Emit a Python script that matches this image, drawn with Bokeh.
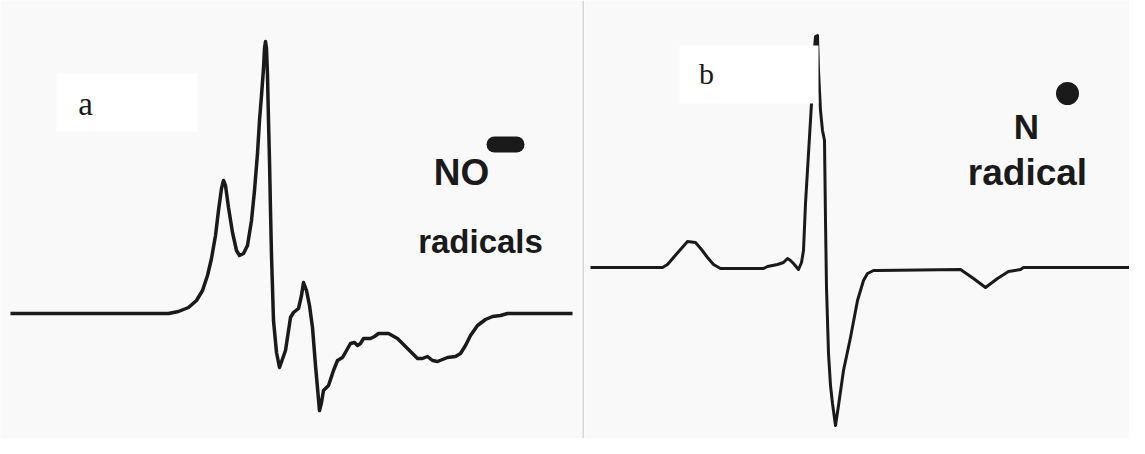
from bokeh.plotting import figure
from bokeh.layouts import row
from bokeh.models import Range1d, Span, Label
from bokeh.embed import file_html
from bokeh.resources import INLINE

# ---- data: EPR-like spectra (field in arbitrary units, signal relative to baseline) ----
field_a = [10, 168, 178, 188, 196, 202, 207, 211, 215, 218, 221, 223, 225, 228, 232, 236, 239, 243, 247,
           251, 254, 257, 259, 261, 263, 264, 265, 266, 267, 268, 269, 270, 271, 273, 276, 279, 285, 290,
           293, 298, 301, 303, 306, 309, 312, 315, 319, 321, 323, 328, 333, 337, 342, 346, 350, 354, 357,
           360, 363, 370, 374, 378, 388, 397, 407, 417, 422, 427, 432, 437, 442, 447, 455, 460, 465, 470,
           477, 485, 492, 500, 507, 572]
pos_a = [313, 313, 311, 307, 300, 290, 275, 258, 235, 210, 188, 180, 185, 207, 232, 250, 255, 253, 245,
         220, 190, 153, 120, 95, 68, 48, 41, 48, 75, 120, 160, 210, 255, 320, 352, 367, 350, 317,
         312, 308, 295, 282, 290, 305, 327, 365, 410, 402, 390, 385, 370, 360, 357, 350, 343, 342, 345,
         343, 338, 338, 336, 333, 333, 338, 348, 358, 358, 356, 360, 361, 359, 357, 356, 353, 345, 335,
         325, 319, 316, 315, 313, 313]
signal_a = [313 - v for v in pos_a]

field_b = [590, 662, 667, 673, 680, 687, 695, 701, 707, 713, 720, 763, 767, 777, 783, 787, 790, 793, 798,
           801, 803, 805, 808, 811, 813, 815, 817, 818, 820, 822, 824, 825, 826, 828, 830, 832, 835, 838,
           843, 850, 857, 863, 867, 873, 877, 960, 973, 985, 997, 1008, 1020, 1023, 1145]
pos_b = [267, 267, 264, 257, 249, 241, 242, 249, 257, 264, 268, 268, 266, 264, 262, 258, 260, 263, 269,
         262, 250, 203, 153, 103, 60, 36, 35, 70, 110, 130, 140, 220, 287, 353, 385, 403, 425, 405,
         370, 337, 300, 280, 273, 270, 270, 269, 278, 287, 278, 271, 269, 267, 267]
signal_b = [267 - v for v in pos_b]

BG = "#f9f9f9"
INK = "#1a1a1a"
H = 438

def make_fig(w, x0, x1, base):
    p = figure(width=w, height=H, output_backend="svg", toolbar_location=None,
               x_range=Range1d(x0, x1), y_range=Range1d(base - H, base),
               x_axis_location=None, y_axis_location=None, min_border=0)
    p.grid.visible = False
    p.outline_line_color = None
    p.background_fill_color = BG
    p.border_fill_color = BG
    return p

# ---- panel a ----
pa = make_fig(584, 0, 584, 313)
pa.quad(left=[56], right=[197], top=[313 - 73], bottom=[313 - 131], fill_color="white", line_color=None)
pa.line(field_a, signal_a, line_width=3.5, line_color=INK, line_join="round")
pa.add_layout(Span(location=583, dimension="height", line_color="#d6d6d6", line_width=2))
pa.add_layout(Label(x=85, y=313 - 103, text="a", text_font="Liberation Serif", text_font_size="33px",
                    text_align="center", text_baseline="alphabetic", text_color=INK))
pa.add_layout(Label(x=461, y=313 - 172, text="NO", text_font="Liberation Sans", text_font_size="37px",
                    text_font_style="bold", text_align="center", text_baseline="alphabetic", text_color=INK))
pa.segment(x0=[494], y0=[313 - 144], x1=[516], y1=[313 - 144], line_width=16, line_cap="round", line_color=INK)
pa.add_layout(Label(x=480, y=313 - 241, text="radicals", text_font="Liberation Sans", text_font_size="33px",
                    text_font_style="bold", text_align="center", text_baseline="alphabetic", text_color=INK))

# ---- panel b ----
pb = make_fig(545, 584, 1129, 267)
pb.line(field_b, signal_b, line_width=3, line_color=INK, line_join="round")
pb.quad(left=[679], right=[818], top=[267 - 45], bottom=[267 - 103], fill_color="white", line_color=None)
pb.add_layout(Label(x=706, y=267 - 73, text="b", text_font="Liberation Serif", text_font_size="30px",
                    text_align="center", text_baseline="alphabetic", text_color=INK))
pb.scatter(x=[1067], y=[267 - 93], size=23, fill_color=INK, line_color=None)
pb.add_layout(Label(x=1026, y=267 - 126, text="N", text_font="Liberation Sans", text_font_size="35px",
                    text_font_style="bold", text_align="center", text_baseline="alphabetic", text_color=INK))
pb.add_layout(Label(x=1027, y=267 - 172, text="radical", text_font="Liberation Sans", text_font_size="37px",
                    text_font_style="bold", text_align="center", text_baseline="alphabetic", text_color=INK))

layout = row(pa, pb, spacing=0)
open("out.html", "w").write(file_html(layout, INLINE))
